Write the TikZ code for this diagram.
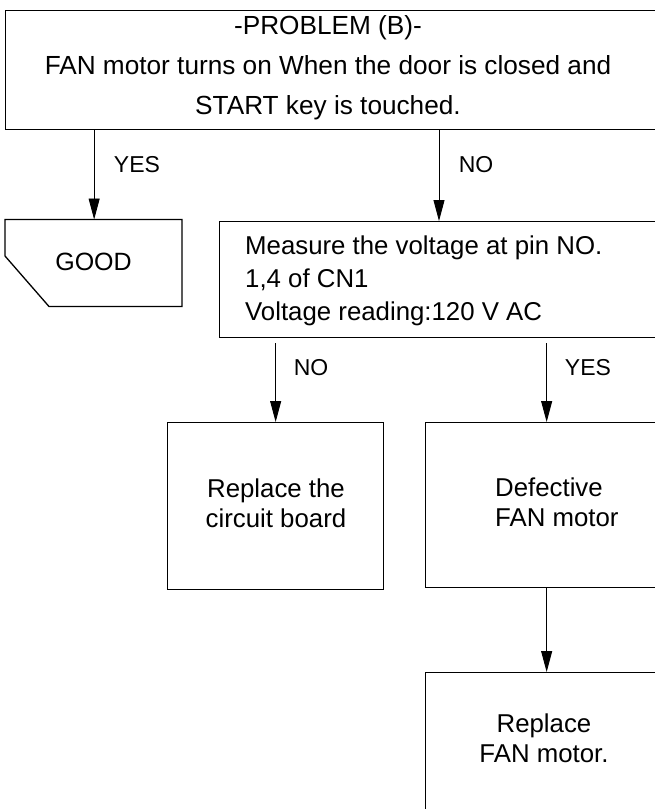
\documentclass[tikz,border=0pt]{standalone}
\usepackage{fontspec}
\setmainfont{Liberation Sans}
\usetikzlibrary{arrows.meta}
\tikzset{
  box/.style={draw, line width=1.3pt, anchor=north west, inner sep=0pt},
  arr/.style={line width=0.9pt, -{Triangle[length=21pt,width=11pt]}},
  lbl/.style={font=\fontsize{23}{28}\selectfont, inner sep=0pt},
  txt/.style={font=\fontsize{25.8}{30}\selectfont, inner sep=0pt, align=center}
}
\begin{document}
\begin{tikzpicture}[x=1pt,y=-1pt]
\useasboundingbox (0,0) rectangle (655,809);
\clip (0,0) rectangle (655,809);
% boxes
\node[box, minimum width=675pt, minimum height=119pt] (top) at (5,10) {};
\node[box, draw=none, minimum width=177pt, minimum height=87pt] (good) at (5,219.5) {};
\draw[line width=1.3pt] (5,219.5) -- (182,219.5) -- (182,306.5) -- (49,306.5) -- (5,256) -- cycle;
\node[box, minimum width=461pt, minimum height=116pt] (meas) at (219,221) {};
\node[box, minimum width=216pt, minimum height=167pt] (rcb) at (167,422) {};
\node[box, minimum width=242pt, minimum height=165pt] (def) at (425,422) {};
\node[box, minimum width=242pt, minimum height=160pt] (rfm) at (425,672) {};
% texts
\node[txt, font=\fontsize{26.2}{40}\selectfont] (ttop) at (328,68) {-PROBLEM (B)-\\FAN motor turns on When the door is closed and\\START key is touched.};
\node[lbl, font=\fontsize{25}{28}\selectfont] (tgood) at (93.5,262) {GOOD};
\node[txt, font=\fontsize{25.8}{33}\selectfont, align=left, anchor=west] (tmeas) at (245,281) {Measure the voltage at pin NO.\\1,4 of CN1\\Voltage reading:120 V AC};
\node[txt] (trcb) at (276,503) {Replace the\\circuit board};
\node[txt, align=left, anchor=west] (tdef) at (495,502) {Defective\\FAN motor};
\node[txt] (trfm) at (544,738) {Replace\\FAN motor.};
% connectors
\coordinate (measin) at (439,221);
\draw[arr] (top.south -| good.north) -- (good.north);
\draw[arr] (top.south -| measin) -- (measin);
\draw[arr] ([yshift=-5pt]meas.south -| rcb.north) -- (rcb.north);
\draw[arr] ([yshift=-5pt]meas.south -| def.north) -- (def.north);
\draw[arr] (def.south) -- (rfm.north);
% labels
\node[lbl] (l1) at (137,165) {YES};
\node[lbl] (l2) at (476,165) {NO};
\node[lbl] (l3) at (311,368) {NO};
\node[lbl] (l4) at (588,368) {YES};
\end{tikzpicture}
\end{document}
